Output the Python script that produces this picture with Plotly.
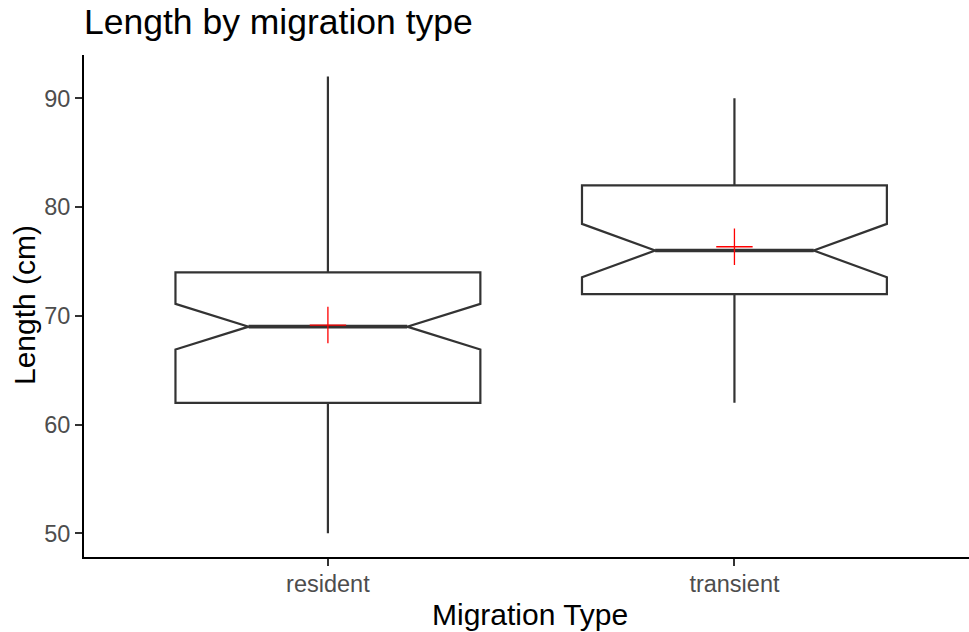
import plotly.graph_objects as go

# Summary statistics of fish length (cm) per migration type
categories = ["resident", "transient"]
lower_whisker = [50, 62]
q1 = [62, 72]
median = [69, 76]
q3 = [74, 82]
upper_whisker = [92, 90]
notch_half = [2.1, 2.45]
mean = [69.15, 76.35]

BOX_WIDTH = 0.75
NOTCH_WIDTH = 0.24
LINE = "#333333"
FONT = "Liberation Sans, Arial, sans-serif"

pos = list(range(len(categories)))

fig = go.Figure()

fig.add_trace(go.Box(
    x=pos,
    q1=q1,
    median=median,
    q3=q3,
    lowerfence=lower_whisker,
    upperfence=upper_whisker,
    notchspan=notch_half,
    notched=True,
    notchwidth=NOTCH_WIDTH,
    width=BOX_WIDTH,
    whiskerwidth=0,
    boxpoints=False,
    fillcolor="rgba(255,255,255,0)",
    line=dict(color=LINE, width=2.2),
    showlegend=False,
    hoverinfo="skip",
))

# Thicker median segments across the notch waist
half_med = BOX_WIDTH / 2 * (1 - 2 * NOTCH_WIDTH)
for p, m in zip(pos, median):
    fig.add_trace(go.Scatter(
        x=[p - half_med, p + half_med], y=[m, m],
        mode="lines", line=dict(color=LINE, width=3.6),
        showlegend=False, hoverinfo="skip",
    ))

# Mean markers
fig.add_trace(go.Scatter(
    x=pos, y=mean, mode="markers",
    marker=dict(symbol="cross-thin", size=26,
                line=dict(color="red", width=1.3)),
    showlegend=False, hoverinfo="skip",
))

fig.update_layout(
    width=969, height=632,
    margin=dict(l=84, r=0, t=55, b=75),
    paper_bgcolor="white", plot_bgcolor="white",
    font=dict(family=FONT, color="black"),
    title=dict(
        text="Length by migration type",
        font=dict(size=35.5, color="black", family=FONT),
        x=84 / 969, xref="container", xanchor="left",
        y=1 - 22 / 632, yref="container", yanchor="middle",
    ),
    xaxis=dict(
        range=[-0.6, 1.577],
        tickvals=pos, ticktext=categories,
        showline=True, linecolor="black", linewidth=2,
        ticks="outside", ticklen=7, tickwidth=2, tickcolor=LINE,
        tickfont=dict(size=23.5, color="#4D4D4D", family=FONT),
        ticklabelstandoff=-2,
        showgrid=False, zeroline=False,
    ),
    yaxis=dict(
        range=[47.82, 93.98],
        tickvals=[50, 60, 70, 80, 90],
        showline=True, linecolor="black", linewidth=2,
        ticks="outside", ticklen=7, tickwidth=2, tickcolor=LINE,
        tickfont=dict(size=23.5, color="#4D4D4D", family=FONT),
        showgrid=False, zeroline=False,
    ),
    annotations=[
        dict(text="Migration Type", xref="paper", yref="paper",
             x=(530 - 84) / 885, y=(557 - 614) / 502,
             xanchor="center", yanchor="middle", showarrow=False,
             font=dict(size=30, color="black", family=FONT)),
        dict(text="Length (cm)", xref="paper", yref="paper",
             x=(24 - 84) / 885, y=(557 - 305) / 502, textangle=-90,
             xanchor="center", yanchor="middle", showarrow=False,
             font=dict(size=30, color="black", family=FONT)),
    ],
)

fig.write_html("out.html")
